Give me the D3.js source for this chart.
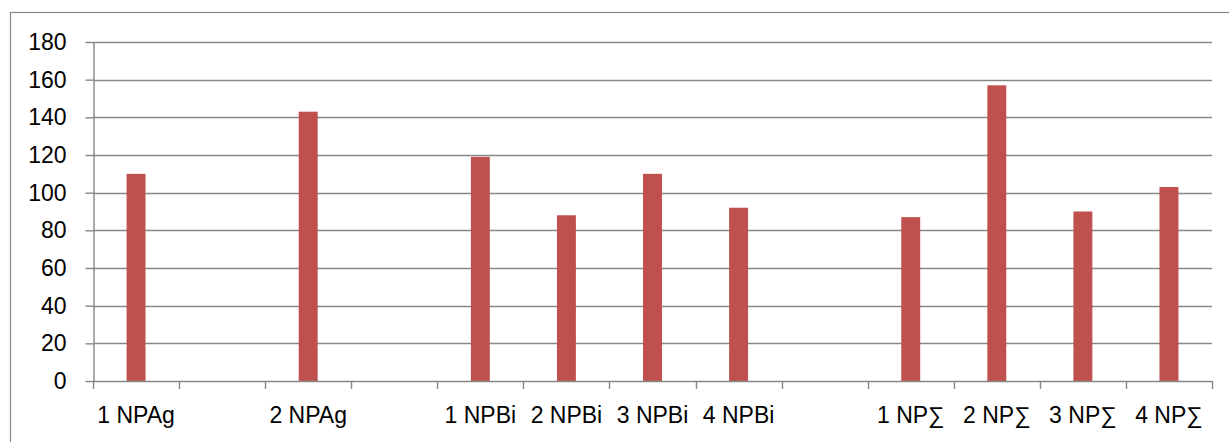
<!DOCTYPE html>
<html>
<head>
<meta charset="utf-8">
<script src="https://cdn.jsdelivr.net/npm/d3@7"></script>
<style>
  html, body { margin: 0; padding: 0; background: #fff; }
  svg { display: block; font-family: "Liberation Sans", Arial, sans-serif; }
</style>
</head>
<body>
<svg id="chart" width="1229" height="442"></svg>
<script>
// Category slots along the x axis (empty strings are spacer slots)
const categories = ["1 NPAg", "", "2 NPAg", "", "1 NPBi", "2 NPBi", "3 NPBi", "4 NPBi", "", "1 NP∑", "2 NP∑", "3 NP∑", "4 NP∑"];
// Values for each slot (null = no bar)
const values = [110, null, 143, null, 119, 88, 110, 92, null, 87, 157, 90, 103];
// Y axis ticks
const yTicks = [0, 20, 40, 60, 80, 100, 120, 140, 160, 180];

const svg = d3.select("#chart");
const margin = { left: 93, right: 1229 - 1212, top: 42, bottom: 442 - 381 };
const W = 1229, H = 442;
const fontSize = 23;

const data = categories.map((c, i) => ({ key: i, label: c, value: values[i] }));

const x = d3.scaleBand()
  .domain(data.map(d => d.key))
  .range([margin.left, W - margin.right])
  .padding(0);

const y = d3.scaleLinear()
  .domain([0, 180])
  .range([H - margin.bottom, margin.top]);

const grey = "#878787";

// outer chart frame
svg.append("rect")
  .attr("x", 10.5).attr("y", 12.5)
  .attr("width", 1240).attr("height", 460)
  .attr("fill", "none")
  .attr("stroke", grey)
  .attr("stroke-width", 1.2);

// horizontal gridlines
svg.append("g")
  .selectAll("line")
  .data(yTicks.filter(t => t > 0))
  .join("line")
  .attr("x1", margin.left).attr("x2", W - margin.right)
  .attr("y1", d => Math.round(y(d)) + 0.5).attr("y2", d => Math.round(y(d)) + 0.5)
  .attr("stroke", grey)
  .attr("stroke-width", 1.4);

// bars
const barFrac = 0.22;
svg.append("g")
  .selectAll("rect")
  .data(data.filter(d => d.value != null))
  .join("rect")
  .attr("x", d => x(d.key) + x.bandwidth() * (1 - barFrac) / 2)
  .attr("width", x.bandwidth() * barFrac)
  .attr("y", d => y(d.value))
  .attr("height", d => y(0) - y(d.value))
  .attr("fill", "#C0504D");

// y axis
const yAxis = d3.axisLeft(y)
  .tickValues(yTicks)
  .tickSize(8)
  .tickPadding(19)
  .tickSizeOuter(0);
const gy = svg.append("g")
  .attr("transform", `translate(${margin.left + 0.5},0)`)
  .call(yAxis);
gy.selectAll(".tick line").attr("stroke", grey).attr("stroke-width", 1.4);
gy.select(".domain").attr("stroke", grey).attr("stroke-width", 1.4);
gy.selectAll(".tick text")
  .attr("font-size", fontSize)
  .attr("fill", "#000")
  .attr("font-family", "Liberation Sans, Arial, sans-serif");

// x axis: ticks on slot boundaries
const boundaries = d3.range(categories.length + 1).map(i => margin.left + i * x.bandwidth());
const gx = svg.append("g");
gx.append("line")
  .attr("x1", margin.left).attr("x2", W - margin.right)
  .attr("y1", y(0) + 0.5).attr("y2", y(0) + 0.5)
  .attr("stroke", grey).attr("stroke-width", 1.4);
gx.selectAll("line.tk")
  .data(boundaries)
  .join("line")
  .attr("class", "tk")
  .attr("x1", d => Math.round(d) + 0.5).attr("x2", d => Math.round(d) + 0.5)
  .attr("y1", y(0)).attr("y2", y(0) + 8)
  .attr("stroke", grey).attr("stroke-width", 1.4);
gx.selectAll("text")
  .data(data.filter(d => d.label))
  .join("text")
  .attr("x", d => x(d.key) + x.bandwidth() / 2)
  .attr("y", 423)
  .attr("text-anchor", "middle")
  .attr("font-size", fontSize)
  .attr("fill", "#000")
  .text(d => d.label);
</script>
</body>
</html>
